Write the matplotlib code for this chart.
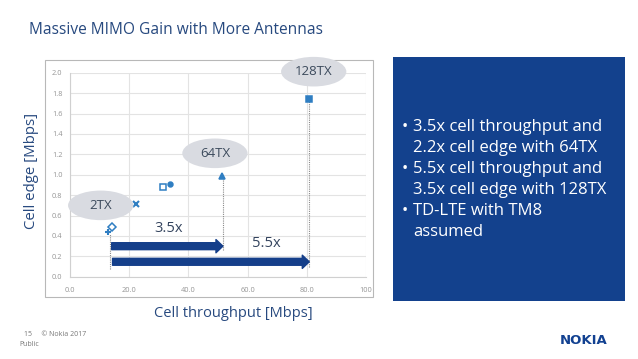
import matplotlib
matplotlib.use('Agg')
import matplotlib.pyplot as plt
from matplotlib.patches import Rectangle, Ellipse

plt.rcParams['font.family'] = ['Open Sans', 'DejaVu Sans']

# data: (throughput Mbps, cell edge Mbps)
markers = ['+', 'D', 'x', 's', 'o', '^', 's']
thr = [13.1, 14.2, 22.3, 31.6, 33.8, 51.5, 80.7]
edge = [0.44, 0.49, 0.71, 0.88, 0.91, 0.99, 1.74]
filled = [True, False, True, False, True, True, True]

labels = ['2TX', '64TX', '128TX']
label_x = [10.5, 49.0, 82.3]
label_y = [0.70, 1.21, 2.01]

# dotted drop lines (x, top, bottom)
drop_x = [13.5, 51.8, 80.7]
drop_top = [0.42, 0.97, 1.72]
drop_bot = [0.08, 0.26, 0.10]

# gain arrows
arrow_start = [14.2, 14.5]
arrow_end = [51.7, 80.8]
arrow_y = [0.30, 0.147]
gains = ['3.5x', '5.5x']
gain_x = [33.3, 66.4]
gain_y = [0.475, 0.33]

bullets = [['3.5x cell throughput and', '2.2x cell edge with 64TX'],
           ['5.5x cell throughput and', '3.5x cell edge with 128TX'],
           ['TD-LTE with TM8', 'assumed']]

mcol = '#2F7EC2'

fig = plt.figure(figsize=(6.38, 3.59), dpi=100)
fig.patch.set_facecolor('white')

# outer chart frame
fig.patches.append(Rectangle((0.0705, 0.1727), 0.514, 0.660, transform=fig.transFigure,
                             facecolor='white', edgecolor='#b8b8b8', lw=0.8, zorder=-2))
# blue text panel
fig.patches.append(Rectangle((0.616, 0.1616), 0.3636, 0.6797, transform=fig.transFigure,
                             facecolor='#13418D', edgecolor='none', zorder=-2))

ax = fig.add_axes([0.109, 0.229, 0.465, 0.5685])
ax.set_facecolor('white')
ax.set_xlim(0, 100)
ax.set_ylim(0, 2.0)
ax.set_xticks([0, 20, 40, 60, 80, 100])
ax.set_xticklabels(['0.0', '20.0', '40.0', '60.0', '80.0', '100'])
ax.set_yticks([i * 0.2 for i in range(11)])
ax.set_yticklabels(['%.1f' % (i * 0.2) for i in range(11)])
ax.tick_params(length=0, labelsize=5.3, colors='#959595', pad=5)
ax.tick_params(axis='x', pad=7)
ax.grid(True, color='#e3e3e3', lw=0.8)
ax.set_axisbelow(True)
for s in ['top', 'right']:
    ax.spines[s].set_visible(False)
for s in ['left', 'bottom']:
    ax.spines[s].set_color('#d0d0d0')
    ax.spines[s].set_linewidth(0.8)

for x0, t, b in zip(drop_x, drop_top, drop_bot):
    ax.plot([x0, x0], [b, t], ls=(0, (1, 1)), color='#8a8a8a', lw=0.8, zorder=2)

for m, x, y, f in zip(markers, thr, edge, filled):
    size = 4 if m in ('s', 'D') else 4.5
    if m == 'o':
        size = 3.5
    if m in ('+', 'x'):
        ax.plot(x, y, marker=m, color=mcol, ms=size, mew=1.5, ls='none', zorder=4)
    else:
        ax.plot(x, y, marker=m, ms=size, mew=1.1, ls='none', zorder=4,
                markerfacecolor=mcol if f else 'white', markeredgecolor=mcol)

for x0, x1, y in zip(arrow_start, arrow_end, arrow_y):
    ax.annotate('', xy=(x1, y), xytext=(x0, y),
                arrowprops=dict(arrowstyle='simple,head_width=0.95,head_length=0.5,tail_width=0.5',
                                mutation_scale=10, color='#153F8A', shrinkA=0, shrinkB=0),
                zorder=3)

for g, x, y in zip(gains, gain_x, gain_y):
    ax.text(x, y, g, fontsize=10.5, color='#34445e', ha='center', va='center')

for lab, x, y in zip(labels, label_x, label_y):
    ax.add_patch(Ellipse((x, y), 22.0, 0.29, facecolor='#d9dbe1', edgecolor='none',
                         clip_on=False, zorder=5))
    ax.text(x, y, lab, fontsize=9.5, color='#3c4a5c', ha='center', va='center', zorder=6,
            clip_on=False)

fig.text(0.0455, 0.916, 'Massive MIMO Gain with More Antennas', fontsize=11.2,
         color='#27497F', ha='left', va='center')
fig.text(0.0486, 0.525, 'Cell edge [Mbps]', fontsize=10.8, color='#27497F', rotation=90,
         ha='center', va='center')
fig.text(0.365, 0.128, 'Cell throughput [Mbps]', fontsize=10.5, color='#27497F',
         ha='center', va='center')

# bullet lines, ~21 px apart
line_h = 21.0 / 359
yl = 1 - 127.0 / 359
for b in bullets:
    fig.text(0.630, yl, '\u2022', fontsize=12, color='white', ha='left', va='center')
    for line in b:
        fig.text(0.647, yl, line, fontsize=12, color='white', ha='left', va='center')
        yl -= line_h

fig.text(0.037, 0.069, '15     \u00a9 Nokia 2017', fontsize=5, color='#777777',
         ha='left', va='center')
fig.text(0.030, 0.040, 'Public', fontsize=5, color='#777777', ha='left', va='center')
fig.text(0.915, 0.052, 'NOKIA', fontsize=9.5, color='#124191', fontweight='bold',
         ha='center', va='center', family='DejaVu Sans')

fig.savefig('out.png', dpi=100)
